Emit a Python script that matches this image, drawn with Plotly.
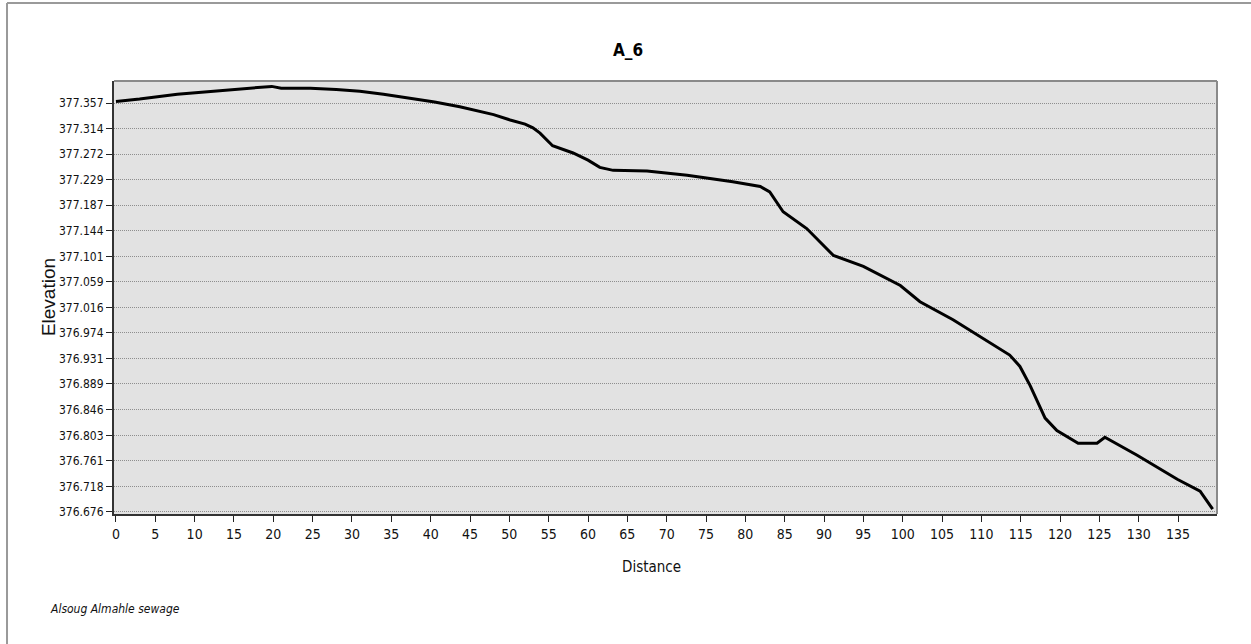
import plotly.graph_objects as go

# Profile of line A_6 (distance along the line vs. ground elevation)
distance = [0, 3, 7.8, 10.5, 14.1, 17, 19.8, 21, 24.7, 28, 31, 34, 37.4, 40.5,
            43.7, 46, 48, 50.1, 52, 53.0, 53.9, 55.5, 58.1, 60, 61.5, 63.2,
            67.5, 72.6, 78.4, 81.9, 83.1, 84.8, 87.8, 91.2, 95.0, 99.7, 102.2,
            106.4, 109.8, 113.6, 114.9, 116.2, 118.1, 119.6, 122.3, 124.7,
            125.7, 129.8, 134.9, 137.8, 139.4]
elevation = [377.360, 377.364, 377.372, 377.375, 377.379, 377.381, 377.385,
             377.382, 377.382, 377.380, 377.377, 377.372, 377.365, 377.359,
             377.351, 377.344, 377.338, 377.329, 377.322, 377.316, 377.307,
             377.286, 377.274, 377.262, 377.250, 377.245, 377.244, 377.237,
             377.226, 377.218, 377.209, 377.176, 377.148, 377.103, 377.085,
             377.053, 377.026, 376.996, 376.968, 376.937, 376.918, 376.886,
             376.832, 376.811, 376.790, 376.790, 376.800, 376.770, 376.730,
             376.710, 376.680]

y_ticks = [376.676, 376.718, 376.761, 376.803, 376.846, 376.889, 376.931,
           376.974, 377.016, 377.059, 377.101, 377.144, 377.187, 377.229,
           377.272, 377.314, 377.357]
y_tick_text = ["376.676", "376.718", "376.761", "376.803", "376.846", "376.889",
               "376.931", "376.974", "377.016", "377.059", "377.101", "377.144",
               "377.187", "377.229", "377.272", "377.314", "377.357"]
x_ticks = list(range(0, 140, 5))

title_text = "A_6"
x_title = "Distance"
y_title = "Elevation"
footnote = "Alsoug Almahle sewage"

NARROW = "Liberation Sans Narrow, Arial Narrow, DejaVu Sans Condensed, sans-serif"
SANS = "Liberation Sans, Arial, sans-serif"

fig = go.Figure(
    go.Scatter(x=distance, y=elevation, mode="lines",
               line=dict(color="#000000", width=3), showlegend=False)
)

fig.update_layout(
    width=1251, height=644,
    margin=dict(l=114, r=34, t=81, b=130),
    paper_bgcolor="#ffffff",
    plot_bgcolor="#e2e2e2",
    font=dict(family=NARROW, color="#111111", size=13),
    xaxis=dict(
        range=[-0.25, 139.95], tickvals=x_ticks,
        ticks="outside", ticklen=6, tickwidth=1, tickcolor="#222222",
        showgrid=False, zeroline=False,
        showline=True, linecolor="#333333", linewidth=2,
        tickfont=dict(family=NARROW, size=14, color="#111111"),
    ),
    yaxis=dict(
        range=[376.672, 377.394], tickvals=y_ticks, ticktext=y_tick_text,
        ticks="outside", ticklen=6, tickwidth=1, tickcolor="#222222",
        showgrid=True, gridcolor="#8e8e8e", griddash="1px,1px", gridwidth=1,
        zeroline=False,
        showline=True, linecolor="#333333", linewidth=2,
        tickfont=dict(family=NARROW, size=12, color="#111111"),
    ),
    shapes=[
        # plot frame (top and right edges in grey)
        dict(type="line", xref="paper", yref="paper", x0=0, x1=1, y0=1, y1=1,
             line=dict(color="#8a8a8a", width=2), layer="above"),
        dict(type="line", xref="paper", yref="paper", x0=1, x1=1, y0=0, y1=1,
             line=dict(color="#8a8a8a", width=2), layer="above"),
        # outer page border
        dict(type="line", xref="paper", yref="paper", x0=-0.097, x1=1.04,
             y0=1.180, y1=1.180, line=dict(color="#9a9a9a", width=2)),
        dict(type="line", xref="paper", yref="paper", x0=-0.097, x1=-0.097,
             y0=-0.31, y1=1.180, line=dict(color="#9a9a9a", width=2)),
    ],
    annotations=[
        dict(text="<b>" + title_text + "</b>", xref="paper", yref="paper",
             x=0.466, y=1.0716, xanchor="center", yanchor="middle",
             showarrow=False,
             font=dict(family=NARROW, size=17, color="#000000")),
        dict(text=x_title, xref="paper", yref="paper", x=0.487, y=-0.1224,
             xanchor="center", yanchor="middle", showarrow=False,
             font=dict(family=NARROW, size=15, color="#111111")),
        dict(text=y_title, xref="paper", yref="paper", x=-0.0598, y=0.501,
             xanchor="center", yanchor="middle", showarrow=False, textangle=-90,
             font=dict(family=SANS, size=19, color="#111111")),
        dict(text="<i>" + footnote + "</i>", xref="paper", yref="paper",
             x=-0.0598, y=-0.2194, xanchor="left", yanchor="middle",
             showarrow=False,
             font=dict(family=NARROW, size=12, color="#111111")),
    ],
)

fig.write_html("out.html")
